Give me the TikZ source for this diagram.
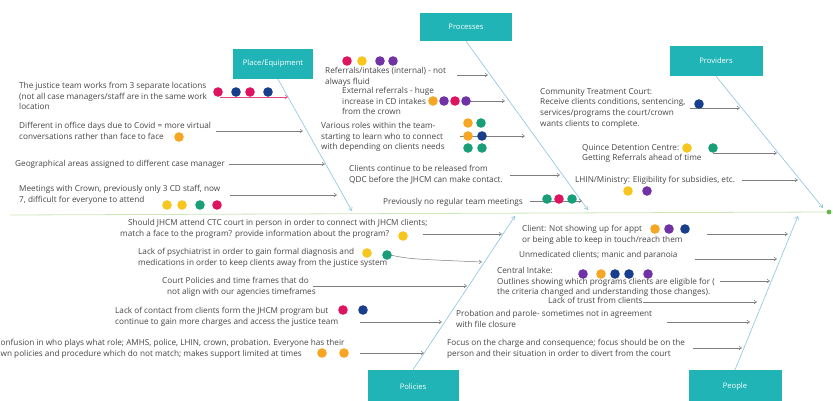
\documentclass[tikz,border=0pt]{standalone}
\usepackage{fontspec}
\setmainfont{Open Sans}
\usetikzlibrary{arrows.meta}

\definecolor{boxteal}{RGB}{32,180,182}
\definecolor{bonecol}{RGB}{140,196,222}
\definecolor{spinecol}{RGB}{204,230,186}
\definecolor{spinetip}{RGB}{100,186,70}
\definecolor{arrgray}{RGB}{125,125,125}
\definecolor{txtgray}{RGB}{70,70,70}
\definecolor{dpink}{RGB}{222,20,96}
\definecolor{dnavy}{RGB}{24,62,140}
\definecolor{dorange}{RGB}{246,166,34}
\definecolor{dyellow}{RGB}{247,198,30}
\definecolor{dgreen}{RGB}{24,158,120}
\definecolor{dpurple}{RGB}{112,50,164}

\tikzset{
  catbox/.style={fill=boxteal, text=white, inner sep=0pt,
    font=\fontsize{7.6}{8}\selectfont},
  cause/.style={anchor=north west, align=left, inner sep=0pt, text=txtgray,
    font=\fontsize{8.2}{10.6}\selectfont},
  bone/.style={draw=bonecol, line width=0.6pt,
    -{Straight Barb[length=3pt,width=4pt]}},
  spine/.style={draw=spinecol, line width=0.8pt},
  sub/.style={draw=arrgray, line width=0.5pt,
    -{Straight Barb[length=2.5pt,width=3.5pt]}},
}

\begin{document}
\begin{tikzpicture}[x=1pt,y=-1pt]
\useasboundingbox (0,0) rectangle (833,401);
\fill[white] (0,0) rectangle (833,401);
\clip (0,0) rectangle (833,401);

% spine
\coordinate (spL) at (10,215);
\coordinate (spR) at (829,212);
\draw[spine] (spL) -- (spR);
\fill[spinetip] (spR) circle[radius=2.4pt];

% category boxes
\node[catbox, minimum width=80pt, minimum height=30pt] (place) at (273,64) {Place/Equipment};
\node[catbox, minimum width=92pt, minimum height=28pt] (proc) at (466,27) {Processes};
\node[catbox, minimum width=93pt, minimum height=30pt] (prov) at (716,61) {Providers};
\node[catbox, minimum width=91pt, minimum height=34pt] (pol) at (413,387) {Policies};
\node[catbox, minimum width=93pt, minimum height=34pt] (ppl) at (735,387) {People};

% bone ends on the spine
\coordinate (placeEnd) at (352,211);
\coordinate (procEnd) at (588,210);
\coordinate (provEnd) at (823,208);
\coordinate (polEnd) at (515,216);
\coordinate (pplEnd) at (798,216);

\draw[bone] ([xshift=5pt]place.south) -- (placeEnd);
\draw[bone] (proc.south) -- (procEnd);
\draw[bone] (prov.south) -- (provEnd);
\draw[bone] (pol.north) -- (polEnd);
\draw[bone] (ppl.north) -- (pplEnd);

% ---- Place/Equipment causes
\node[cause] (pq1) at (19,82) {The justice team works from 3 separate locations\\(not all case managers/staff are in the same work\\location};
\node[cause] (pq2) at (19,122) {Different in office days due to Covid = more virtual\\conversations rather than face to face};
\node[cause] (pq3) at (15,160) {Geographical areas assigned to different case manager};
\node[cause] (pq4) at (19,185) {Meetings with Crown, previously only 3 CD staff, now\\7, difficult for everyone to attend};

\coordinate (pqS1) at (220,97);  \coordinate (pqE1) at (288,97);
\coordinate (pqS2) at (216,131); \coordinate (pqE2) at (303,131);
\coordinate (pqS3) at (229,164); \coordinate (pqE3) at (325,164);
\coordinate (pqS4) at (230,195); \coordinate (pqE4) at (337,195);
\draw[sub, draw=dpink!80] (pqS1) -- (pqE1);
\draw[sub] (pqS2) -- (pqE2);
\draw[sub] (pqS3) -- (pqE3);
\draw[sub] (pqS4) -- (pqE4);

% ---- Processes causes
\node[cause] (pr1) at (325,67) {Referrals/intakes (internal) - not\\always fluid};
\node[cause] (pr2) at (342,87) {External referrals - huge\\increase in CD intakes\\from the crown};
\node[cause] (pr3) at (321,122) {Various roles within the team-\\starting to learn who to connect\\with depending on clients needs};
\node[cause] (pr4) at (349,165) {Clients continue to be released from\\QDC before the JHCM can make contact.};
\node[cause] (pr5) at (383,198) {Previously no regular team meetings};

\coordinate (prS1) at (457,75);  \coordinate (prE1) at (488,75);
\coordinate (prS2) at (466,101); \coordinate (prE2) at (505,101);
\coordinate (prS3) at (460,136); \coordinate (prE3) at (525,136);
\coordinate (prS4) at (510,175); \coordinate (prE4) at (560,175);
\coordinate (prS5) at (530,201); \coordinate (prE5) at (582,201);
\draw[sub] (prS1) -- (prE1);
\draw[sub] (prS2) -- (prE2);
\draw[sub] (prS3) -- (prE3);
\draw[sub] (prS4) -- (prE4);
\draw[sub] (prS5) -- (prE5);

% ---- Providers causes
\node[cause] (pv1) at (540,88) {Community Treatment Court:\\Receive clients conditions, sentencing,\\services/programs  the court/crown\\wants clients to complete.};
\node[cause] (pv2) at (582,144) {Quince Detention Centre:\\Getting Referrals ahead of time};
\node[cause] (pv3) at (575,176) {LHIN/Ministry: Eligibility for subsidies, etc.};

\coordinate (pvS1) at (690,108); \coordinate (pvE1) at (740,108);
\coordinate (pvS2) at (713,153); \coordinate (pvE2) at (777,153);
\coordinate (pvS3) at (742,180); \coordinate (pvE3) at (798,180);
\draw[sub] (pvS1) -- (pvE1);
\draw[sub] (pvS2) -- (pvE2);
\draw[sub] (pvS3) -- (pvE3);

% ---- Policies causes
\node[cause] (po1) at (120,219) {\hspace*{8pt}Should JHCM attend CTC court in person in order to connect with JHCM clients;\\match a  face to the program? provide information about the program?};
\node[cause] (po2) at (138,248) {Lack of psychiatrist in order to gain formal diagnosis and\\medications in order to keep clients away from the justice system};
\node[cause] (po3) at (162,277) {Court Policies and time frames that do\\\hspace*{5pt}not align with our agencies timeframes};
\node[cause] (po4) at (115,307) {Lack of contact from clients form the JHCM program but\\continue to gain more charges and access the justice team};
\node[cause] (po5) at (0.5,339) {onfusion in who plays what role; AMHS, police, LHIN, crown, probation. Everyone has their\\wn policies and procedure which do not match; makes support limited at times};

\coordinate (poS1) at (423,234); \coordinate (poE1) at (502,234);
\coordinate (poS2) at (390,255); \coordinate (poE2) at (482,262);
\coordinate (poS3) at (313,286); \coordinate (poE3) at (467,286);
\coordinate (poS4) at (360,322); \coordinate (poE4) at (442,322);
\coordinate (poS5) at (360,353); \coordinate (poE5) at (424,353);
\draw[sub] (poS1) -- (poE1);
\draw[sub] (poS2) .. controls (410,259) .. (poE2);
\draw[sub] (poS3) -- (poE3);
\draw[sub] (poS4) -- (poE4);
\draw[sub] (poS5) -- (poE5);

% ---- People causes
\node[cause] (pe1) at (522,225) {Client: Not showing up for appt\\or being able to keep in touch/reach them};
\node[cause] (pe2) at (519,251) {Unmedicated clients; manic and paranoia};
\node[cause] (pe3) at (497,267) {Central Intake:\\Outlines showing which programs clients are eligible for (\\the criteria changed and understanding those changes).};
\node[cause] (pe4) at (548,297) {Lack of trust from clients};
\node[cause] (pe5) at (456,310) {Probation and parole- sometimes not in agreement\\with file closure};
\node[cause] (pe6) at (447,339) {Focus on the charge and consequence; focus  should be on the\\person  and their situation in order to divert from the court};

\coordinate (peS1) at (707,234); \coordinate (peE1) at (788,234);
\coordinate (peS2) at (695,259); \coordinate (peE2) at (777,259);
\coordinate (peS3) at (720,281); \coordinate (peE3) at (770,281);
\coordinate (peS4) at (643,302); \coordinate (peE4) at (757,302);
\coordinate (peS5) at (667,322); \coordinate (peE5) at (750,322);
\coordinate (peS6) at (693,348); \coordinate (peE6) at (742,348);
\draw[sub] (peS1) -- (peE1);
\draw[sub] (peS2) -- (peE2);
\draw[sub] (peS3) -- (peE3);
\draw[sub] (peS4) -- (peE4);
\draw[sub] (peS5) -- (peE5);
\draw[sub] (peS6) -- (peE6);

% ---- vote dots
\foreach \c/\x/\y in {
  dpink/218/92, dnavy/236/92, dpink/250/92, dnavy/268/92,
  dorange/179/137,
  dyellow/167/205, dyellow/182/205, dgreen/200/205, dpink/217/205,
  dpink/347/61, dyellow/362/61, dpurple/380/61, dpurple/393/61,
  dorange/433/101, dpurple/444/101, dpink/455/101, dpurple/466/101,
  dorange/468/123, dgreen/481/123, dorange/468/136, dnavy/482/136,
  dgreen/468/148, dgreen/482/148,
  dgreen/547/199, dpink/559/199, dgreen/572/199,
  dnavy/699/104,
  dyellow/687/148, dgreen/713/148,
  dyellow/628/191, dpurple/647/191,
  dyellow/403/236,
  dyellow/367/253, dgreen/387/255,
  dpink/343/310, dnavy/363/310,
  dorange/322/353, dorange/344/353,
  dorange/655/229, dpurple/669/229, dnavy/685/229,
  dpurple/583/274, dorange/601/274, dnavy/615/274, dnavy/629/274, dpurple/648/274}
  \fill[\c] (\x,\y) circle[radius=4.8pt];

\end{tikzpicture}
\end{document}
